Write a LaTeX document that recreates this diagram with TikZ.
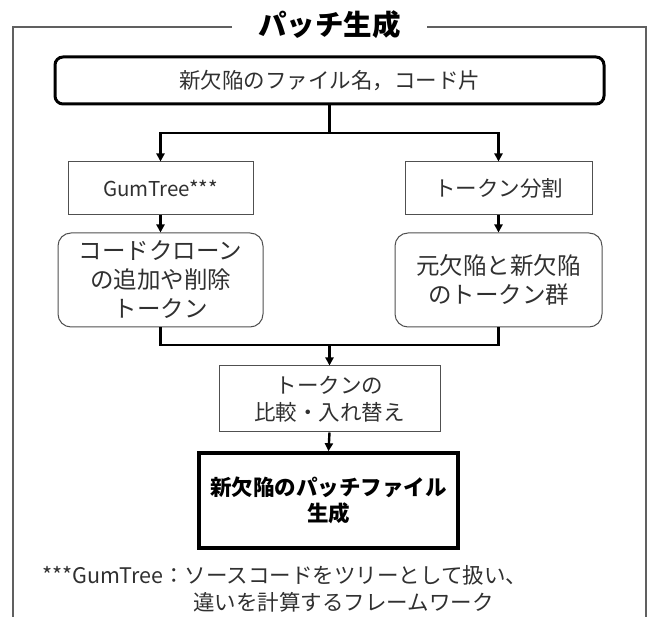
\documentclass[tikz,border=0pt]{standalone}
\usepackage{fontspec}
\setmainfont{Noto Sans CJK JP}
\usetikzlibrary{arrows.meta}
\definecolor{framegray}{HTML}{606060}
\definecolor{boxgray}{HTML}{505050}
\definecolor{txt}{HTML}{303030}
\begin{document}
\begin{tikzpicture}[x=1pt,y=-1pt,
  box/.style={draw=boxgray, line width=1pt, inner sep=0pt, align=center, text=txt},
  rbox/.style={box, rounded corners=13pt},
  conn/.style={draw=black, line width=2.4pt},
  arr/.style={conn, -{Triangle[length=8pt,width=8pt]}},
  f21/.style={font=\fontsize{21.5}{27}\selectfont},
  f23/.style={font=\fontsize{23.5}{29}\selectfont}
]
\useasboundingbox (0,0) rectangle (651,617);
% frame
\node[font=\fontsize{28.5}{32}\bfseries\selectfont, inner sep=0pt] (title) at (329.5,25) {パッチ生成};
\coordinate (fl) at (232,27);
\coordinate (fr) at (427,27);
\draw[framegray, line width=1.2pt] (fl) -- (13,27) -- (13,617);
\draw[framegray, line width=1.2pt] (fr) -- (646,27) -- (646,617);
% nodes
\node[box, f21, draw=black, line width=3pt, rounded corners=8pt, minimum width=549pt, minimum height=47pt] (top) at (329.5,80.5) {新欠陥のファイル名，コード片};
\node[box, font=\fontsize{20.5}{26}\selectfont, minimum width=185pt, minimum height=53pt] (gum) at (160.5,188.5) {GumTree***};
\node[box, f21, minimum width=187pt, minimum height=53pt] (split) at (498.5,188.5) {トークン分割};
\node[rbox, f23, minimum width=205pt, minimum height=94pt] (lr) at (160.5,280) {コードクローン\\の追加や削除\\トークン};
\node[rbox, f23, minimum width=207pt, minimum height=94pt] (rr) at (498.5,280) {元欠陥と新欠陥\\のトークン群};
\node[box, f21, minimum width=221pt, minimum height=66pt] (cmp) at (329.5,399) {トークンの\\比較・入れ替え};
\node[box, font=\fontsize{21.5}{26}\bfseries\selectfont, text=black, draw=black, line width=3.5pt, minimum width=259pt, minimum height=95pt] (gen) at (328.5,500.5) {新欠陥のパッチファイル\\生成};
% connectors
\coordinate (j1) at (329.5,133);
\coordinate (j2) at (329.5,345);
\draw[conn] (top.south) -- (j1);
\draw[arr] (j1) -| (gum.north);
\draw[arr] (j1) -| (split.north);
\draw[arr] (gum.south) -- (lr.north);
\draw[arr] (split.south) -- (rr.north);
\draw[conn] (lr.south) |- (j2);
\draw[conn] (rr.south) |- (j2);
\draw[arr] (j2) -- (cmp.north);
\draw[arr] (cmp.south) -- (gen.north);
% footnote
\node[f21, text=txt, anchor=west, inner sep=0pt] (foot1) at (42,575) {***GumTree：ソースコードをツリーとして扱い、};
\node[f21, text=txt, anchor=west, inner sep=0pt] (foot2) at (193,602) {違いを計算するフレームワーク};
\end{tikzpicture}
\end{document}
